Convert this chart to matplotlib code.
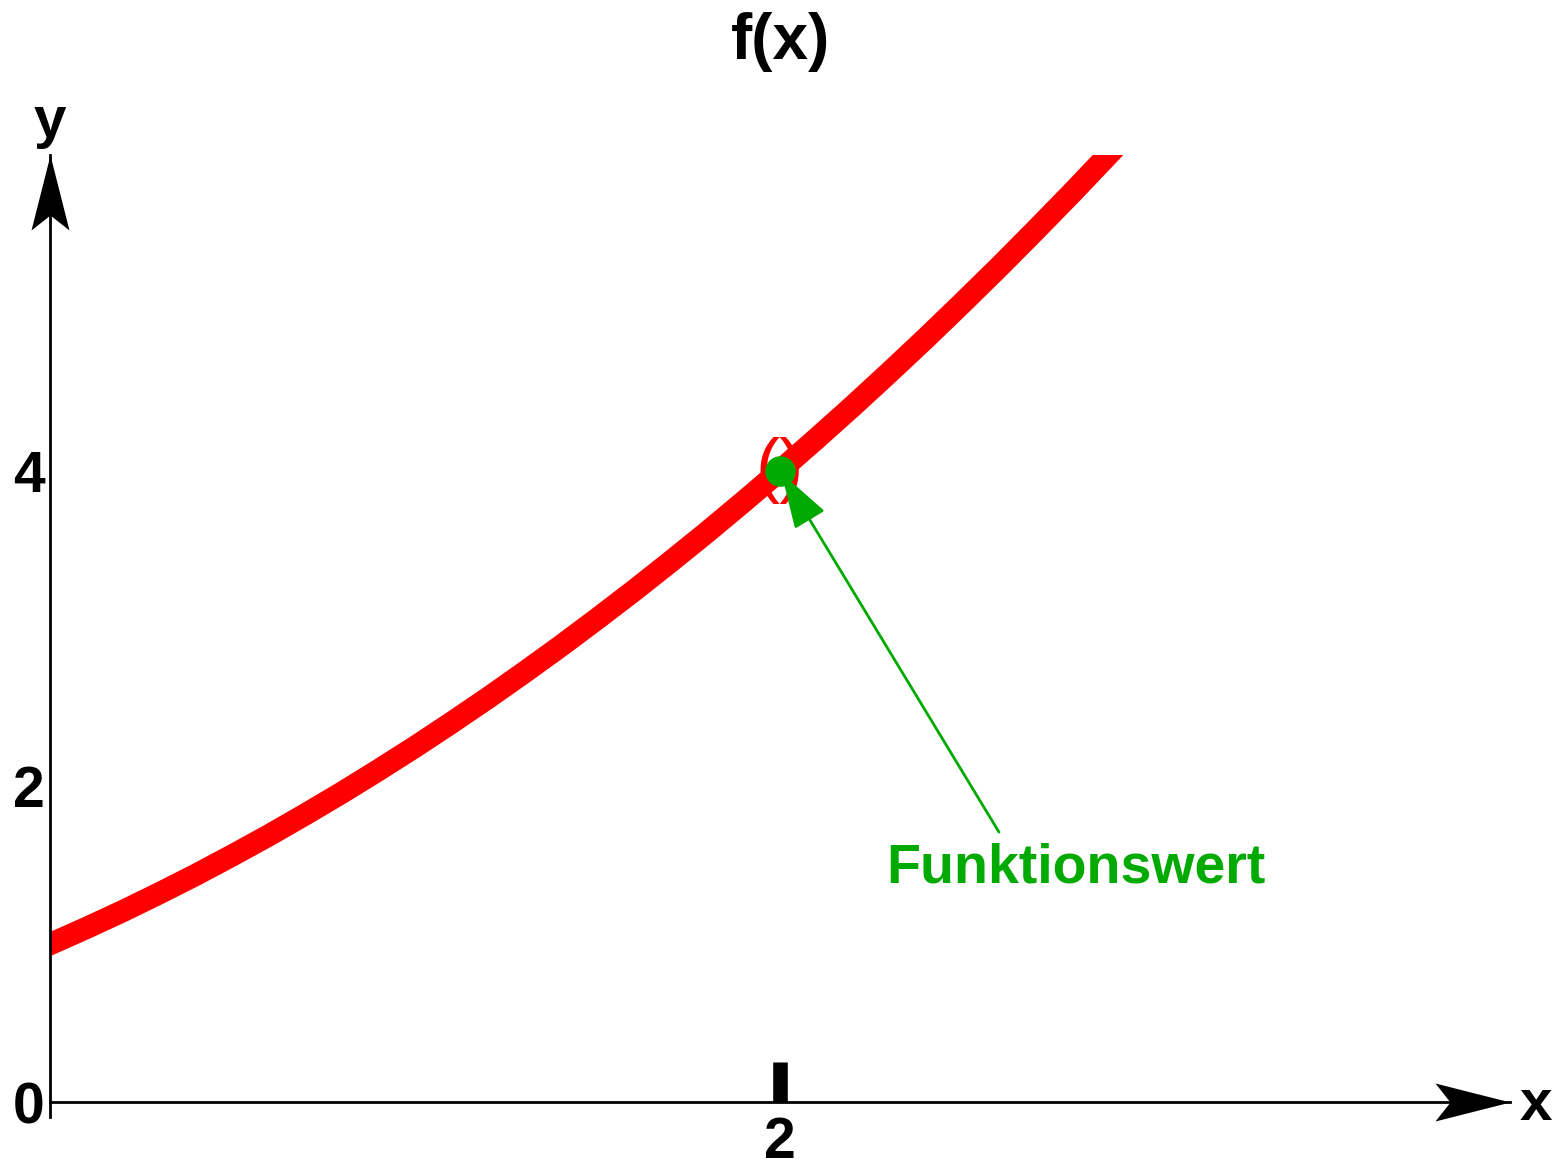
import matplotlib
matplotlib.use("Agg")
import matplotlib.pyplot as plt
import matplotlib.transforms as mtransforms
from matplotlib.path import Path

# values
curve_x = [-0.1, 0.0, 0.1, 0.2, 0.3, 0.4, 0.5, 0.6, 0.7, 0.8, 0.9, 1.0,
           1.1, 1.2, 1.3, 1.4, 1.5, 1.6, 1.7, 1.8, 1.9, 2.0,
           2.1, 2.2, 2.3, 2.4, 2.5, 2.6, 2.7, 2.8, 2.9, 3.0]
curve_y = [0.903, 1.000, 1.103, 1.210, 1.323, 1.440, 1.563, 1.690, 1.823, 1.960,
           2.103, 2.250, 2.403, 2.560, 2.723, 2.890, 3.063, 3.240, 3.423, 3.610,
           3.803, 4.000, 4.203, 4.410, 4.623, 4.840, 5.063, 5.290, 5.523, 5.760,
           6.003, 6.250]
point_x = [2]
point_y = [4]
x_ticks = [2]
y_ticks = [0, 2, 4]
label_xy = (2.29, 1.39)
arrow_start = (2.60, 1.71)

plt.rcParams['font.family'] = ['Liberation Sans', 'DejaVu Sans']
plt.rcParams['font.weight'] = 'bold'
plt.rcParams['path.simplify'] = False

RED = '#ff0000'
GREEN = '#00aa00'

fig = plt.figure(figsize=(15.63, 11.67), dpi=100)
ax = fig.add_axes([50 / 1563, 1 - 1117 / 1167, 1460 / 1563, 962 / 1167])
ax.set_xlim(0, 4)
ax.set_ylim(-0.095, 6)

ax.plot(curve_x, curve_y, color=RED, lw=16, solid_joinstyle='round',
        solid_capstyle='butt', zorder=2)

# open interval brackets and the function value
ax.text(point_x[0], point_y[0], '()', color=RED, fontsize=52, fontweight='normal',
        ha='center', va='center', zorder=3)
ax.plot(point_x, point_y, 'o', color=GREEN, ms=21, zorder=4)

ax.annotate('', xy=(point_x[0], point_y[0]), xytext=arrow_start,
            arrowprops=dict(arrowstyle='-|>,head_length=35,head_width=11',
                            mutation_scale=1, color=GREEN, lw=2, shrinkA=0, shrinkB=2),
            zorder=5)
ax.text(label_xy[0], label_xy[1], 'Funktionswert', color=GREEN, fontsize=40,
        ha='left', va='baseline')

# axes with arrow heads
for s in ['top', 'right']:
    ax.spines[s].set_visible(False)
ax.spines['bottom'].set_position(('data', 0))
ax.spines['left'].set_linewidth(2)
ax.spines['bottom'].set_linewidth(2)

up = Path([(0, 0), (19, -75), (0, -60), (-19, -75), (0, 0)],
          [Path.MOVETO, Path.LINETO, Path.LINETO, Path.LINETO, Path.CLOSEPOLY])
right = Path([(0, 0), (-75, 19), (-60, 0), (-75, -19), (0, 0)],
             [Path.MOVETO, Path.LINETO, Path.LINETO, Path.LINETO, Path.CLOSEPOLY])
ax.plot(0, 1, marker=up, ms=108, color='black', mew=0,
        transform=ax.transAxes, clip_on=False)
ax.plot(1, 0, marker=right, ms=108, color='black', mew=0,
        transform=mtransforms.blended_transform_factory(ax.transAxes, ax.transData),
        clip_on=False)

ax.set_xticks(x_ticks)
ax.set_yticks(y_ticks)
ax.tick_params(axis='x', direction='in', length=29, width=10.5, pad=10, labelsize=41)
ax.tick_params(axis='y', length=0, pad=4, labelsize=41)

ax.annotate('y', xy=(0, 1), xycoords='axes fraction', xytext=(0, 24),
            textcoords='offset points', ha='center', va='center', fontsize=42)
ax.annotate('x', xy=(1, 0), xycoords=('axes fraction', 'data'), xytext=(7, -2),
            textcoords='offset points', ha='left', va='center', fontsize=42)

fig.text(781 / 1563, 1 - 42 / 1167, 'f(x)', ha='center', va='center', fontsize=46)

plt.savefig('out.png', dpi=100)
